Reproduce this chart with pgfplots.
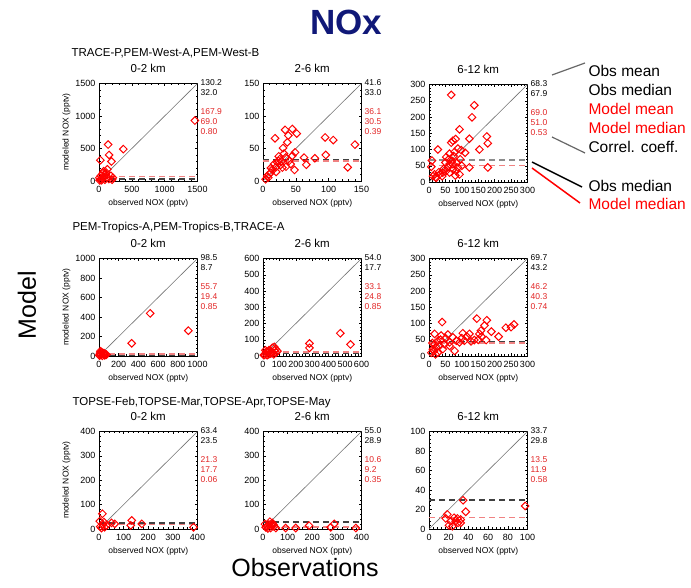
\documentclass[border=0pt]{standalone}
\usepackage{pgfplots}
\pgfplotsset{compat=1.18}
\usepackage{fontspec}
\setmainfont{Liberation Sans}
\definecolor{navytitle}{RGB}{16,24,120}
\definecolor{statred}{RGB}{225,35,35}
\definecolor{medpink}{RGB}{240,130,130}
\pgfplotsset{
  panel/.style={
    scale only axis, width=98.5pt, height=97.5pt,
    axis line style={line width=0.6pt},
    tick align=inside, xtick pos=both, ytick pos=both,
    major tick length=3pt, minor tick length=1.5pt,
    minor x tick num=4, minor y tick num=4,
    tick style={black, line width=0.4pt},
    ticklabel style={font=\fontsize{9}{9}\selectfont},
    xticklabel style={yshift=-2pt},
    /pgf/number format/assume math mode=true,
    /pgf/number format/1000 sep={},
    xlabel={observed NOX (pptv)},
    xlabel style={font=\fontsize{8.5}{9}\selectfont, inner sep=0pt, at={(axis description cs:0.5,-0.225)}, anchor=center},
    ylabel style={font=\fontsize{8.5}{9}\selectfont, inner sep=0pt, at={(axis description cs:-0.33,0.5)}, anchor=center},
    title style={font=\fontsize{11.5}{12}\selectfont, inner sep=0pt, at={(axis description cs:0.5,1.05)}, anchor=base},
    clip mode=individual,
    anchor=south west,
  },
  dia/.style={only marks, mark=square, mark size=2.7pt, red, mark options={line width=1pt, fill=none, rotate=45}},
  oneone/.style={black!55, line width=0.6pt},
  obsmed/.style={black!75, line width=1.6pt, dash pattern=on 6pt off 4pt},
  modmed/.style={medpink, line width=1.6pt, dash pattern=on 6pt off 4pt},
}
\newcommand{\stats}[5]{%
  \node[anchor=west, font=\fontsize{8.5}{9}\selectfont, inner sep=0pt] at ([xshift=3pt,yshift=1pt]rel axis cs:1,1) {#1};
  \node[anchor=west, font=\fontsize{8.5}{9}\selectfont, inner sep=0pt] at ([xshift=3pt,yshift=-9pt]rel axis cs:1,1) {#2};
  \node[anchor=west, font=\fontsize{8.5}{9}\selectfont, inner sep=0pt, statred] at ([xshift=3pt,yshift=-28pt]rel axis cs:1,1) {#3};
  \node[anchor=west, font=\fontsize{8.5}{9}\selectfont, inner sep=0pt, statred] at ([xshift=3pt,yshift=-38pt]rel axis cs:1,1) {#4};
  \node[anchor=west, font=\fontsize{8.5}{9}\selectfont, inner sep=0pt, statred] at ([xshift=3pt,yshift=-48pt]rel axis cs:1,1) {#5};
}
\begin{document}
\begin{tikzpicture}
\path[use as bounding box] (0pt,0pt) rectangle (691pt,588pt);

\node[font=\fontsize{35}{36}\selectfont\bfseries, text=navytitle] at (346pt,566pt) {NOx};
\node[rotate=90, font=\fontsize{25}{26}\selectfont] at (27pt,283pt) {Model};
\node[font=\fontsize{25}{26}\selectfont] at (305pt,20pt) {Observations};

\node[anchor=west, font=\fontsize{11.5}{12}\selectfont] at (68pt,535pt) {TRACE-P,PEM-West-A,PEM-West-B};
\node[anchor=west, font=\fontsize{11.5}{12}\selectfont] at (69pt,360pt) {PEM-Tropics-A,PEM-Tropics-B,TRACE-A};
\node[anchor=west, font=\fontsize{11.5}{12}\selectfont] at (69pt,185pt) {TOPSE-Feb,TOPSE-Mar,TOPSE-Apr,TOPSE-May};

% legend
\begin{scope}[font=\fontsize{15.5}{16}\selectfont]
\node[anchor=west] at (585pt,517pt) {Obs mean};
\node[anchor=west] at (585pt,498pt) {Obs median};
\node[anchor=west, text=red] at (585pt,479pt) {Model mean};
\node[anchor=west, text=red] at (585pt,460pt) {Model median};
\node[anchor=west] at (585pt,441pt) {Correl. coeff.};
\node[anchor=west] at (585pt,402pt) {Obs median};
\node[anchor=west, text=red] at (585pt,384pt) {Model median};
\end{scope}
\draw[black!60, line width=1.2pt] (552pt,513pt) -- (585pt,525pt);
\draw[black!60, line width=1.2pt] (552pt,451pt) -- (585pt,435pt);
\draw[black, line width=1.5pt] (532pt,426pt) -- (582pt,401pt);
\draw[red, line width=1.5pt] (532pt,420pt) -- (580pt,385pt);

% ---------- Row 1 ----------
\begin{axis}[panel, at={(99pt,407pt)}, xmin=0,xmax=1500,ymin=0,ymax=1500,
  xtick={0,500,1000,1500}, ytick={0,500,1000,1500}, title={0-2 km}, ylabel={modeled NOX (pptv)}]
\addplot[oneone] coordinates {(0,0) (1500,1500)};
\addplot[obsmed] coordinates {(0,32) (1500,32)};
\addplot[modmed] coordinates {(0,69) (1500,69)};
\addplot[dia] coordinates {(1460,930) (370,490) (139,560) (21,320) (154,400) (190,300) (128,180) (20,20) (50,40) (80,60) (100,100) (60,120) (30,80) (120,50) (150,30) (200,20) (10,10) (40,10) (90,20) (180,80) (70,150) (110,130) (210,50) (5,50)};
\stats{130.2}{32.0}{167.9}{69.0}{0.80}
\end{axis}

\begin{axis}[panel, at={(263pt,407pt)}, xmin=0,xmax=150,ymin=0,ymax=150,
  xtick={0,50,100,150}, ytick={0,50,100,150}, title={2-6 km}]
\addplot[oneone] coordinates {(0,0) (150,150)};
\addplot[obsmed] coordinates {(0,33) (150,33)};
\addplot[modmed] coordinates {(0,30.5) (150,30.5)};
\addplot[dia] coordinates {(140,56) (94.6,67) (107,63) (95.6,40) (129,21) (79,35) (62.5,36) (66,25) (48,17) (18.3,65.7) (33.6,78.6) (44.7,80) (51.4,73) (38.6,70) (37,59.5) (30.5,50.7) (32,42) (48.8,44) (23.4,31) (27,24.8) (29.5,20.7) (16.8,25.9) (14.2,18.1) (9.2,10.3) (8.1,5.2) (11.7,12.9) (19.3,20.7) (21.9,28.5) (25.4,33.6) (39.7,31) (34.6,36.2) (42.2,25.9) (4,2.6) (6.6,7.8) (44.7,38.8) (12,20) (20,14) (28,30) (35,22) (24,38)};
\stats{41.6}{33.0}{36.1}{30.5}{0.39}
\end{axis}

\begin{axis}[panel, at={(429pt,406pt)}, xmin=0,xmax=300,ymin=0,ymax=300,
  xtick={0,50,...,300}, ytick={0,50,...,300}, title={6-12 km}]
\addplot[oneone] coordinates {(0,0) (300,300)};
\addplot[obsmed, black!45] coordinates {(0,67.9) (300,67.9)};
\addplot[modmed] coordinates {(0,51) (300,51)};
\addplot[dia] coordinates {(67.7,268) (138,236) (131,199) (93,162) (123,133) (176,140) (179,119) (153.5,100) (27,100) (81,132) (72.7,127) (67.7,121) (88,103) (78,92.5) (98,98) (62.6,87) (52.5,76.6) (123,44.7) (179,44.7) (9,66) (7,46.8) (12,18) (22,12.8) (32,23.4) (42,28.7) (52.5,34) (62.6,28.7) (72.7,39) (83,34) (93,23.4) (88,44.7) (72.7,55) (62.6,55) (57.6,44.7) (40,18) (17,23.4) (60,70) (75,80) (85,60) (95,70) (50,60) (70,65) (30,30) (20,15) (45,40) (80,20) (100,50) (110,90)};
\stats{68.3}{67.9}{69.0}{51.0}{0.53}
\end{axis}

% ---------- Row 2 ----------
\begin{axis}[panel, at={(99pt,232pt)}, xmin=0,xmax=1000,ymin=0,ymax=1000,
  xtick={0,200,...,1000}, ytick={0,200,...,1000}, title={0-2 km}, ylabel={modeled NOX (pptv)}]
\addplot[oneone] coordinates {(0,0) (1000,1000)};
\addplot[obsmed] coordinates {(0,8.7) (1000,8.7)};
\addplot[modmed] coordinates {(0,19.4) (1000,19.4)};
\addplot[dia] coordinates {(520,437) (907,260) (332,130) (24,42) (7,14) (41,25) (58,7) (75,14) (34,2) (14,49) (10,30) (20,10) (30,35) (45,15) (5,5) (15,20) (50,30) (60,20)};
\stats{98.5}{8.7}{55.7}{19.4}{0.85}
\end{axis}

\begin{axis}[panel, at={(263pt,232pt)}, xmin=0,xmax=600,ymin=0,ymax=600,
  xtick={0,100,...,600}, ytick={0,100,...,600}, title={2-6 km}]
\addplot[oneone] coordinates {(0,0) (600,600)};
\addplot[obsmed] coordinates {(0,17.7) (600,17.7)};
\addplot[modmed] coordinates {(0,24.8) (600,24.8)};
\addplot[dia] coordinates {(471,140) (533,71) (283,77) (283,50) (57,50) (68,56) (78,42) (37,36) (16,15) (47,15) (25,5) (88,30) (10,8) (20,25) (30,20) (40,30) (50,25) (60,20) (70,35) (80,20) (15,35) (5,5) (35,10) (65,10)};
\stats{54.0}{17.7}{33.1}{24.8}{0.85}
\end{axis}

\begin{axis}[panel, at={(429pt,232pt)}, xmin=0,xmax=300,ymin=0,ymax=300,
  xtick={0,50,...,300}, ytick={0,50,...,300}, title={6-12 km}]
\addplot[oneone] coordinates {(0,0) (300,300)};
\addplot[obsmed] coordinates {(0,43.2) (300,43.2)};
\addplot[modmed] coordinates {(0,40.3) (300,40.3)};
\addplot[dia] coordinates {(40,104.5) (145.5,115) (176,110) (169,94) (158,78) (212,59.6) (234,87) (250,89) (259,97) (153.5,68) (123,68) (103,70) (108,47) (128,45) (138,49) (17,68) (37,63) (57.6,66) (72.7,57.5) (83,47) (78,15.7) (93,42) (62.6,31) (7,10) (12,21) (22,26) (32,31) (17,36.6) (42,21) (27,10) (47.5,36.6) (62.6,42) (174,49) (10,40) (25,45) (35,50) (50,55) (15,15) (20,5) (100,55) (115,60) (160,60) (190,75) (150,50)};
\stats{69.7}{43.2}{46.2}{40.3}{0.74}
\end{axis}

% ---------- Row 3 ----------
\begin{axis}[panel, at={(99pt,59pt)}, xmin=0,xmax=400,ymin=0,ymax=400,
  xtick={0,100,...,400}, ytick={0,100,...,400}, title={0-2 km}, ylabel={modeled NOX (pptv)}]
\addplot[oneone] coordinates {(0,0) (400,400)};
\addplot[obsmed] coordinates {(0,23.5) (400,23.5)};
\addplot[modmed] coordinates {(0,17.7) (400,17.7)};
\addplot[dia] coordinates {(14,62.5) (133,35) (174,21) (129,15) (64,21) (30,15) (384,7) (16,18) (10,4) (23,7) (51,25) (3,32) (20,28) (5,10)};
\stats{63.4}{23.5}{21.3}{17.7}{0.06}
\end{axis}

\begin{axis}[panel, at={(263pt,59pt)}, xmin=0,xmax=400,ymin=0,ymax=400,
  xtick={0,100,...,400}, ytick={0,100,...,400}, title={2-6 km}]
\addplot[oneone] coordinates {(0,0) (400,400)};
\addplot[obsmed] coordinates {(0,28.9) (400,28.9)};
\addplot[modmed] coordinates {(0,9.2) (400,9.2)};
\addplot[dia] coordinates {(377,4) (289,21) (187,14) (133,4) (92,4) (275,7) (24,18) (38,25) (11,7) (45,11) (31,4) (52,4) (18,11) (28,30) (35,15) (8,20) (20,2) (42,18)};
\stats{55.0}{28.9}{10.6}{9.2}{0.35}
\end{axis}

\begin{axis}[panel, at={(429pt,59pt)}, xmin=0,xmax=100,ymin=0,ymax=100,
  xtick={0,20,...,100}, ytick={0,20,...,100}, title={6-12 km}]
\addplot[oneone] coordinates {(0,0) (100,100)};
\addplot[obsmed] coordinates {(0,29.8) (100,29.8)};
\addplot[modmed] coordinates {(0,11.9) (100,11.9)};
\addplot[dia] coordinates {(34.6,29.5) (37.3,17.7) (97.6,23.6) (18.6,15) (25.4,11.5) (28.8,10.8) (32.2,9.7) (29.5,6.3) (22,8) (20.3,3.8) (23.7,2.8) (17,10.8) (27,8) (32.2,6.3)};
\stats{33.7}{29.8}{13.5}{11.9}{0.58}
\end{axis}
\end{tikzpicture}
\end{document}
